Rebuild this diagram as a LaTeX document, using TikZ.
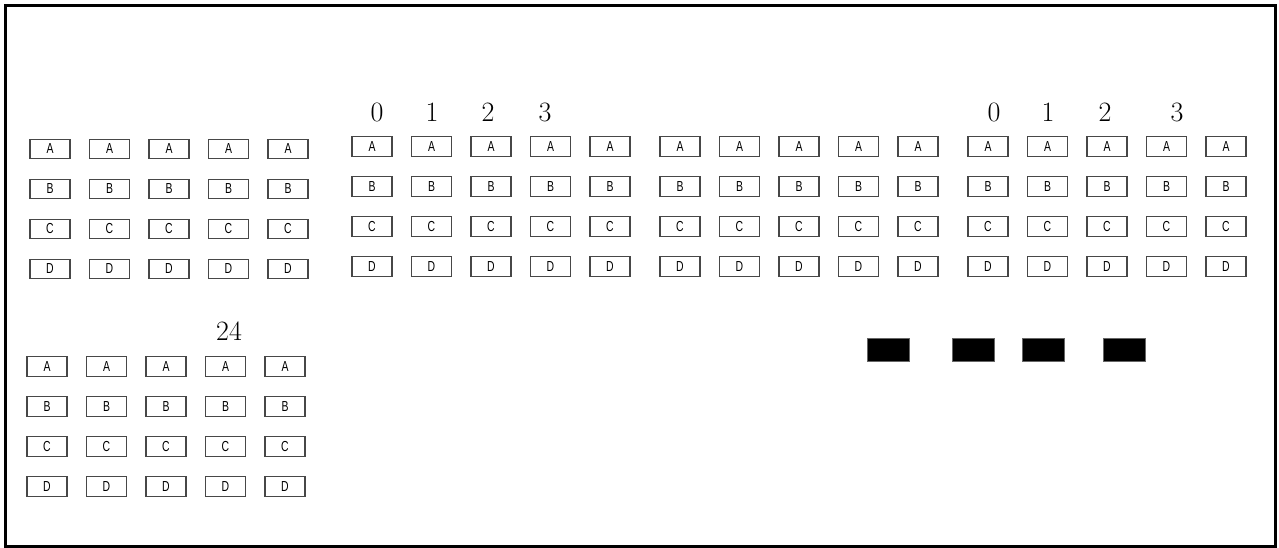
\documentclass[tikz,border=0pt]{standalone}
\usepackage{fontspec}
\newfontfamily\boxfont[FakeStretch=0.72]{Liberation Sans}
\begin{document}
\begin{tikzpicture}[x=1pt,y=-1pt,
  cell/.style={draw=black!72,line width=1.4pt,minimum width=40pt,minimum height=19.5pt,inner sep=0pt,font=\boxfont\fontsize{14.5}{14.5}\selectfont},
  idx/.style={inner sep=0pt,font=\fontsize{28}{28}\selectfont},
  blk/.style={fill=black,draw=black!60,line width=0.6pt,minimum width=42pt,minimum height=23pt,inner sep=0pt}]
\useasboundingbox (0,0) rectangle (1279,548);
\draw[line width=3pt] (5.5,5.5) rectangle (1275.5,546.5);
% group 1
\foreach \c/\x in {1/50,2/109.5,3/169,4/228.5,5/288}{
  \foreach \r/\y/\t in {1/149/A,2/189/B,3/229/C,4/269/D}{
    \node[cell] (ga-\r-\c) at (\x,\y) {\t};}}
% group 2
\foreach \c/\x in {1/372,2/431.5,3/491,4/550.5,5/610}{
  \foreach \r/\y/\t in {1/146.5/A,2/186.5/B,3/226.5/C,4/266.5/D}{
    \node[cell] (gb-\r-\c) at (\x,\y) {\t};}}
% group 3
\foreach \c/\x in {1/680,2/739.5,3/799,4/858.5,5/918}{
  \foreach \r/\y/\t in {1/146.5/A,2/186.5/B,3/226.5/C,4/266.5/D}{
    \node[cell] (gc-\r-\c) at (\x,\y) {\t};}}
% group 4
\foreach \c/\x in {1/988,2/1047.5,3/1107,4/1166.5,5/1226}{
  \foreach \r/\y/\t in {1/146.5/A,2/186.5/B,3/226.5/C,4/266.5/D}{
    \node[cell] (gd-\r-\c) at (\x,\y) {\t};}}
% group 5
\foreach \c/\x in {1/47,2/106.5,3/166,4/225.5,5/285}{
  \foreach \r/\y/\t in {1/366.5/A,2/406.5/B,3/446.5/C,4/486.5/D}{
    \node[cell] (ge-\r-\c) at (\x,\y) {\t};}}
% index labels
\node[idx] (lb0) at (377,112.5) {0};
\node[idx] (lb1) at (432,112.5) {1};
\node[idx] (lb2) at (488,112.5) {2};
\node[idx] (lb3) at (545,112.5) {3};
\node[idx] (ld0) at (994,112.5) {0};
\node[idx] (ld1) at (1048,112.5) {1};
\node[idx] (ld2) at (1105,112.5) {2};
\node[idx] (ld3) at (1177,112.5) {3};
\node[idx] (le) at (229,331.5) {24};
% black blocks
\node[blk] (k1) at (888,349.5) {};
\node[blk] (k2) at (973,349.5) {};
\node[blk] (k3) at (1043.5,349.5) {};
\node[blk] (k4) at (1124.5,349.5) {};
\end{tikzpicture}
\end{document}
